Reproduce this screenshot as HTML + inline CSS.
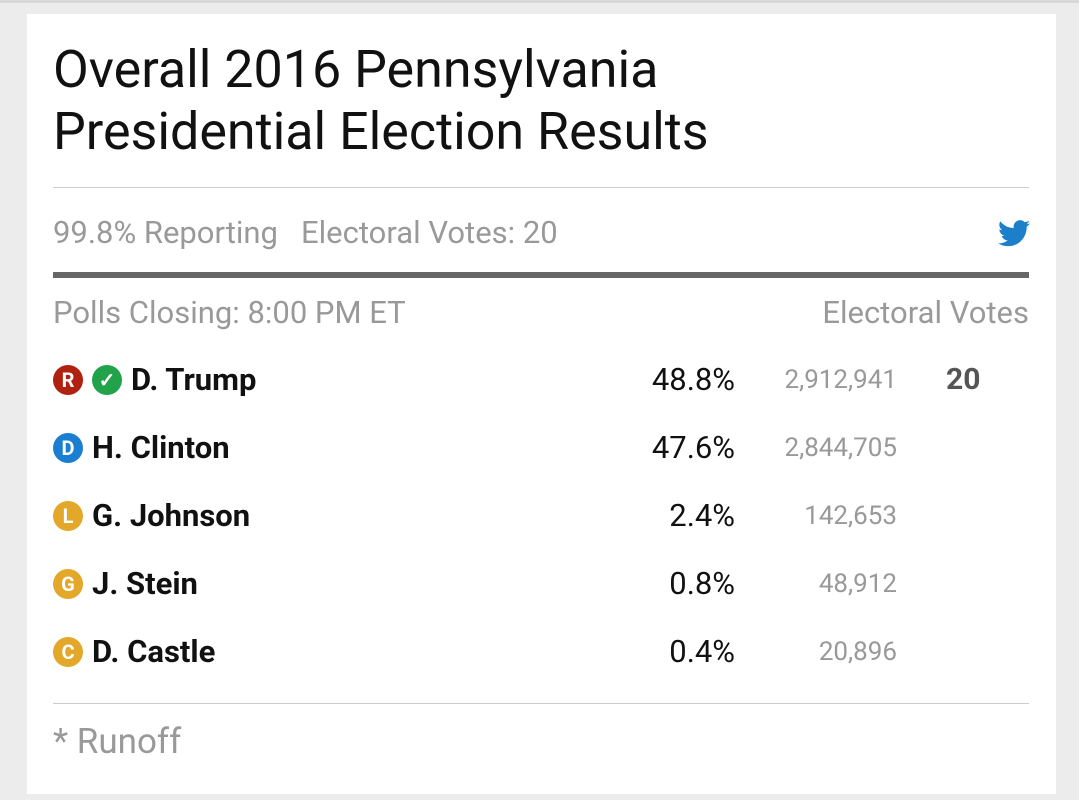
<!DOCTYPE html>
<html><head><meta charset="utf-8"><style>
body{margin:0;width:1079px;height:800px;background:#ececec;font-family:"Roboto","Liberation Sans",sans-serif;position:relative;overflow:hidden}
.card{position:absolute;left:27px;top:14px;width:1029px;height:780px;background:#fff}
.a{position:absolute;white-space:nowrap;line-height:36px}
.t{left:53px;font-size:52px;color:#111;line-height:62px}
.g{color:#999;font-size:31px}
.n{font-weight:bold;font-size:31px;color:#111}
.p{font-size:31px;color:#111;right:344px;text-align:right}
.v{font-size:26px;color:#999;right:182px;text-align:right}
.c{position:absolute;width:30px;height:30px;border-radius:50%;color:#fff;font-weight:bold;font-size:20px;text-align:center;line-height:30px}
</style></head><body>
<div style="position:absolute;left:0;top:0;width:1079px;height:3px;background:#d8d8d8"></div>
<div class="card"></div>
<div class="a t" style="top:39px">Overall 2016 Pennsylvania</div>
<div class="a t" style="top:101px">Presidential Election Results</div>
<div class="a" style="left:53px;top:187px;width:976px;height:1px;background:#ccc"></div>
<div class="a g" style="left:53px;top:215px">99.8% Reporting&nbsp;&nbsp;&nbsp;Electoral Votes: 20</div>
<svg class="a" style="left:998px;top:220px" width="32" height="27" viewBox="0 0 24 20"><path fill="#1b7fc9" d="M24 2.4a10 10 0 0 1-2.8.8A5 5 0 0 0 23.3.4a10 10 0 0 1-3.1 1.2A4.9 4.9 0 0 0 11.8 6 14 14 0 0 1 1.7.9a4.9 4.9 0 0 0 1.5 6.6A4.9 4.9 0 0 1 1 6.9a4.9 4.9 0 0 0 3.9 4.8 5 5 0 0 1-2.2.1 4.9 4.9 0 0 0 4.6 3.4A9.9 9.9 0 0 1 0 17.3 14 14 0 0 0 7.5 19.5c9 0 14-7.5 14-14v-.6A10 10 0 0 0 24 2.4z"/></svg>
<div class="a" style="left:53px;top:272px;width:976px;height:6px;background:#666"></div>
<div class="a g" style="left:53px;top:295px">Polls Closing: 8:00 PM ET</div>
<div class="a g" style="right:50px;top:295px">Electoral Votes</div>

<div class="c" style="left:53px;top:365px;background:#b0210f">R</div>
<div class="c" style="left:92px;top:365px;background:#22a24a;font-size:20px">✓</div>
<div class="a n" style="left:131px;top:362px">D. Trump</div>
<div class="a p" style="top:362px">48.8%</div>
<div class="a v" style="top:362px">2,912,941</div>
<div class="a" style="left:946px;top:362px;font-size:30px;font-weight:bold;color:#555">20</div>

<div class="c" style="left:53px;top:433px;background:#1a7fd0">D</div>
<div class="a n" style="left:92px;top:430px">H. Clinton</div>
<div class="a p" style="top:430px">47.6%</div>
<div class="a v" style="top:430px">2,844,705</div>

<div class="c" style="left:53px;top:501px;background:#e3a72a">L</div>
<div class="a n" style="left:92px;top:498px">G. Johnson</div>
<div class="a p" style="top:498px">2.4%</div>
<div class="a v" style="top:498px">142,653</div>

<div class="c" style="left:53px;top:569px;background:#e3a72a">G</div>
<div class="a n" style="left:92px;top:566px">J. Stein</div>
<div class="a p" style="top:566px">0.8%</div>
<div class="a v" style="top:566px">48,912</div>

<div class="c" style="left:53px;top:637px;background:#e3a72a">C</div>
<div class="a n" style="left:92px;top:634px">D. Castle</div>
<div class="a p" style="top:634px">0.4%</div>
<div class="a v" style="top:634px">20,896</div>

<div class="a" style="left:53px;top:703px;width:976px;height:1px;background:#ccc"></div>
<div class="a" style="left:53px;top:724px;font-size:35px;color:#999">* Runoff</div>
</body></html>
